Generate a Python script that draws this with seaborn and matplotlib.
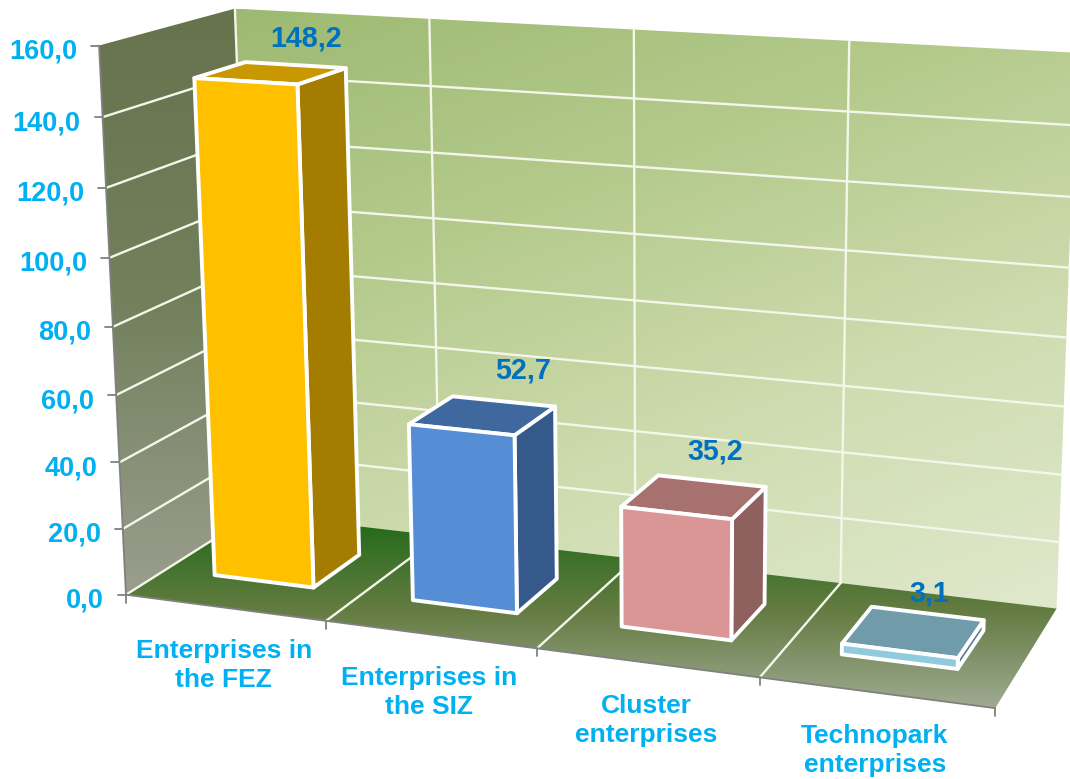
import numpy as np
import pandas as pd
import matplotlib
matplotlib.use('Agg')
import matplotlib.pyplot as plt
from matplotlib.patches import Polygon
import seaborn as sns

# chart data
categories = ['Enterprises in\nthe FEZ', 'Enterprises in\nthe SIZ', 'Cluster\nenterprises', 'Technopark\nenterprises']
values = [148.2, 52.7, 35.2, 3.1]
value_labels = ['148,2', '52,7', '35,2', '3,1']
value_ticks = [0, 20, 40, 60, 80, 100, 120, 140, 160]
tick_labels = ['0,0', '20,0', '40,0', '60,0', '80,0', '100,0', '120,0', '140,0', '160,0']

front_colors = ['#ffc000', '#558ed5', '#d99694', '#8fcbdc']
top_colors = ['#c99700', '#3f689f', '#a77170', '#6f9bab']
side_colors = ['#a37c00', '#35598a', '#8e605e', '#5a7f8c']

# (category pos, depth, value) -> pixel pairs read from the walls, used to fit the 3D view
view_3d = [(0, 0, 0), (1, 0, 0), (2, 0, 0), (3, 0, 0), (4, 0, 0), (4, 1, 0), (3, 1, 0),
           (0, 0, 160), (0, 0, 140), (0, 0, 120), (0, 0, 100), (0, 0, 20),
           (0, 1, 160), (1, 1, 160), (2, 1, 160), (3, 1, 160), (4, 1, 160), (4, 1, 20)]
view_px = [(126, 594), (326, 622), (537, 648), (759, 677), (996, 709), (1057, 608), (840, 583),
           (99, 45), (102, 118), (106, 188), (110, 258), (123, 528),
           (234, 9), (429, 19), (635, 30), (853, 40), (1073, 52), (1059, 543)]

# bar footprint inside a category slot
bar_x = (0.25, 0.755)
bar_d = (0.30, 0.69)
# value label nudge from the bar's top centre, pixels
label_nudge = [(35, -34), (40, -45), (21, -45), (16, -38)]


def fit_view(pts3, pts2):
    rows, rhs = [], []
    for (x, d, z), (u, v) in zip(pts3, pts2):
        z = z / 160
        rows.append([x, d, z, 1, 0, 0, 0, 0, -u * x, -u * d, -u * z])
        rows.append([0, 0, 0, 0, x, d, z, 1, -v * x, -v * d, -v * z])
        rhs += [u, v]
    h = np.linalg.lstsq(np.array(rows, dtype=float), np.array(rhs, dtype=float), rcond=None)[0]
    return np.append(h, 1).reshape(3, 4)


P = fit_view(view_3d, view_px)


def project(x, d, z):
    q = P @ np.array([x, d, z / 160, 1.0])
    return q[0] / q[2], q[1] / q[2]


def gradient_fill(ax, corners, colors, angle, zorder):
    corners = np.array(corners)
    x0, y0 = corners.min(axis=0)
    x1, y1 = corners.max(axis=0)
    xx, yy = np.meshgrid(np.linspace(0, 1, 200), np.linspace(0, 1, 200))
    ramp = xx * np.cos(angle) + yy * np.sin(angle)
    cmap = sns.blend_palette(colors, as_cmap=True)
    im = ax.imshow(ramp, cmap=cmap, extent=(x0, x1, y1, y0), aspect='auto',
                   interpolation='bilinear', zorder=zorder)
    clip = Polygon(corners, closed=True, transform=ax.transData, fc='none', ec='none')
    ax.add_patch(clip)
    im.set_clip_path(clip)


def line_rows(name, a, b):
    return [{'line': name, 'px': a[0], 'py': a[1]}, {'line': name, 'px': b[0], 'py': b[1]}]


sns.set_theme(style='white')
plt.rcParams['font.family'] = ['Liberation Sans', 'DejaVu Sans']

fig = plt.figure(figsize=(10.7, 7.79), dpi=100)
ax = fig.add_axes([0, 0, 1, 1])

n = len(categories)
top = value_ticks[-1]

# walls and floor
gradient_fill(ax, [project(0, 1, 0), project(n, 1, 0), project(n, 1, top), project(0, 1, top)],
              ['#9dba72', '#b4ca8c', '#cfdcb0', '#e0e9cd'], np.radians(62), 1)
gradient_fill(ax, [project(0, 0, 0), project(0, 1, 0), project(0, 1, top), project(0, 0, top)],
              ['#66734d', '#72805c', '#9a9e8e'], np.radians(90), 1)
gradient_fill(ax, [project(0, 0, 0), project(n, 0, 0), project(n, 1, 0), project(0, 1, 0)],
              ['#1d6917', '#647c42', '#a0aa92'], np.radians(90), 2)

# white grid on the walls and the floor
grid = []
for v in value_ticks[1:-1]:
    grid += line_rows(f'back{v}', project(0, 1, v), project(n, 1, v))
    grid += line_rows(f'left{v}', project(0, 0, v), project(0, 1, v))
for i in range(n):
    grid += line_rows(f'wall{i}', project(i, 1, 0), project(i, 1, top))
    grid += line_rows(f'floor{i}', project(i, 0, 0), project(i, 1, 0))
sns.lineplot(data=pd.DataFrame(grid), x='px', y='py', units='line', estimator=None, sort=False,
             color='#f4f6ea', linewidth=1.7, legend=False, ax=ax, zorder=3)

# gray axis lines and tick marks
axis_rows = line_rows('yaxis', project(0, 0, 0), project(0, 0, top))
axis_rows += line_rows('xaxis', project(0, 0, 0), project(n, 0, 0))
for v in value_ticks:
    u, w = project(0, 0, v)
    axis_rows += line_rows(f'ytick{v}', (u - 8, w), (u, w))
for i in range(n + 1):
    u, w = project(i, 0, 0)
    axis_rows += line_rows(f'xtick{i}', (u, w), (u, w + 8))
sns.lineplot(data=pd.DataFrame(axis_rows), x='px', y='py', units='line', estimator=None, sort=False,
             color='#808080', linewidth=1.3, legend=False, ax=ax, zorder=4)

# bars
for i, v in enumerate(values):
    x0, x1 = i + bar_x[0], i + bar_x[1]
    d0, d1 = bar_d
    faces = [
        ([(x1, d0, 0), (x1, d1, 0), (x1, d1, v), (x1, d0, v)], side_colors[i]),
        ([(x0, d0, v), (x1, d0, v), (x1, d1, v), (x0, d1, v)], top_colors[i]),
        ([(x0, d0, 0), (x1, d0, 0), (x1, d0, v), (x0, d0, v)], front_colors[i]),
    ]
    for pts, col in faces:
        ax.add_patch(Polygon([project(*p) for p in pts], closed=True, fc=col, ec='white',
                             lw=2.8, joinstyle='round', zorder=5 + i * 0.1))
    cx, cy = project((x0 + x1) / 2, (d0 + d1) / 2, v)
    dx, dy = label_nudge[i]
    ax.text(cx + dx, cy + dy, value_labels[i], color='#0070c0', fontsize=20.7, fontweight='bold',
            ha='center', va='center', zorder=7)

# tick labels
for v, lab in zip(value_ticks, tick_labels):
    u, w = project(0, 0, v)
    ax.text(u - 22, w + 6, lab, color='#00b0f0', fontsize=19.5, fontweight='bold', ha='right', va='center', zorder=7)
for i, lab in enumerate(categories):
    u, w = project(i + 0.5, 0, 0)
    ax.text(u - 1, w + 58, lab, color='#00b0f0', fontsize=19, fontweight='bold', ha='center', va='center',
            linespacing=1.28, zorder=7)

ax.set_xlim(0, 1070)
ax.set_ylim(779, 0)
ax.axis('off')
fig.savefig('out.png', dpi=100, facecolor='white')
